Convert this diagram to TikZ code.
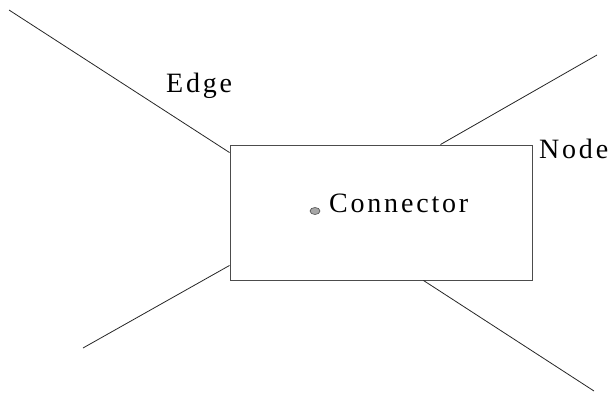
\documentclass[tikz,border=0pt]{standalone}
\usepackage{fontspec}
\setmainfont{Liberation Serif}
\newfontfamily\labelfont[LetterSpace=10]{Liberation Serif}
\usetikzlibrary{shapes.geometric}

\begin{document}
\begin{tikzpicture}[
        x = 1pt,
        y = -1pt,
        box/.style = {
                draw = black!70,
                line width = 0.9pt,
                minimum width = 302pt,
                minimum height = 135pt,
                inner sep = 0pt
            },
        edge line/.style = {
                draw = black!85,
                line width = 0.8pt
            },
        label text/.style = {
                anchor = base west,
                inner sep = 0pt,
                font = \labelfont\fontsize{28}{30}\selectfont
            },
        dot/.style = {
                ellipse,
                draw = black!70,
                fill = black!35,
                line width = 0.6pt,
                minimum width = 10pt,
                minimum height = 7pt,
                inner sep = 0pt
            }
    ]

    \useasboundingbox (0,0) rectangle (614,392);

    \node [box] (node) at (381,212.5) {};

    \coordinate (edge nw) at (9,10);
    \coordinate (edge ne) at (597,55);
    \coordinate (edge sw) at (83,348);
    \coordinate (edge se) at (594,391);

    \draw [edge line] (edge nw) -- ([yshift=-8pt]node.north west);
    \draw [edge line] (edge ne) -- ([xshift=-92pt]node.north east);
    \draw [edge line] (edge sw) -- ([yshift=15pt]node.south west);
    \draw [edge line] (edge se) -- ([xshift=-109pt]node.south east);

    \node [dot] (connector) at (315,211) {};

    \node [label text] (edge label) at (166,92) {Edge};
    \node [label text] (node label) at (539,158.5) {Node};
    \node [label text] (connector label) at (329,212) {Connector};

\end{tikzpicture}
\end{document}
